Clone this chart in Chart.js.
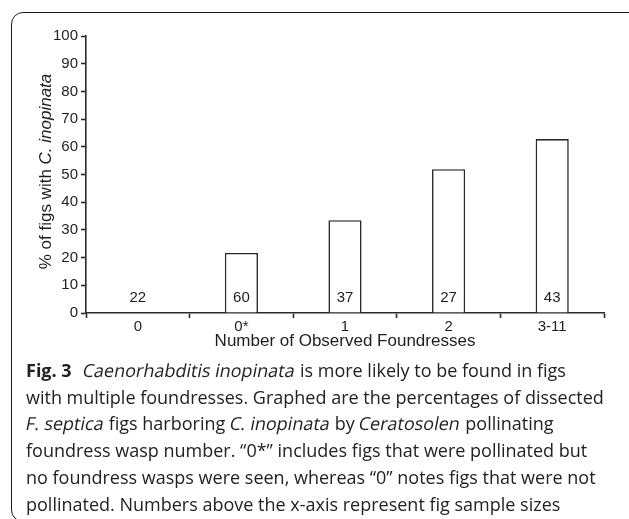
<!DOCTYPE html>
<html>
<head>
<meta charset="utf-8">
<script src="https://cdn.jsdelivr.net/npm/chart.js@4"></script>
<style>
  html, body { margin: 0; padding: 0; background: #fff; }
  body { width: 629px; height: 519px; position: relative; overflow: hidden; }
  #frame {
    position: absolute; left: 11px; top: 12px; width: 640px; height: 508px;
    border: 1.5px solid #1a1a1a; border-radius: 12px;
  }
  #figChart { position: absolute; left: 0; top: 0; }
  #caption {
    position: absolute; left: 26px; top: 357px;
    font-family: "Open Sans", sans-serif; font-size: 18px; line-height: 26.7px;
    color: #222; white-space: nowrap;
  }
  #caption b { font-weight: 700; margin-right: 7px; }
  /* slanted regular face: keeps the wider Myriad-like italic widths */
  #caption i { font-style: normal; display: inline-block; transform: skewX(-11deg); }
</style>
</head>
<body>
<div id="frame"></div>
<canvas id="figChart" width="629" height="360"></canvas>
<div id="caption">
  <b>Fig. 3</b> <i>Caenorhabditis inopinata</i> is more likely to be found in figs<br>
  with multiple foundresses. Graphed are the percentages of dissected<br>
  <i>F. septica</i> figs harboring <i>C. inopinata</i> by <i>Ceratosolen</i> pollinating<br>
  foundress wasp number. “0*” includes figs that were pollinated but<br>
  no foundress wasps were seen, whereas “0” notes figs that were not<br>
  pollinated. Numbers above the x-axis represent fig sample sizes
</div>
<script>
// data
var foundressGroups = ['0', '0*', '1', '2', '3-11'];   // x categories
var pctWithInopinata = [0, 21.7, 33.5, 51.9, 62.8];    // % of figs with C. inopinata
var sampleSizes = [22, 60, 37, 27, 43];                // n per group, printed in the bars

var axisColor = '#2a2a2a';
var textColor = '#1e1e1e';
var fam = '"Liberation Sans", Arial, sans-serif';
var tickFont = { family: fam, size: 15 };

// sample size numbers sitting just above the x axis
var sampleSizeLabels = {
  id: 'sampleSizeLabels',
  afterDatasetsDraw: function (chart) {
    var ctx = chart.ctx, x = chart.scales.x, y = chart.scales.y;
    ctx.save();
    ctx.font = '15px ' + fam;
    ctx.fillStyle = textColor;
    ctx.textAlign = 'center';
    ctx.textBaseline = 'middle';
    sampleSizes.forEach(function (n, i) {
      ctx.fillText(String(n), x.getPixelForValue(i), y.getPixelForValue(0) - 15);
    });
    ctx.restore();
  }
};

// y title has an italic species name, so draw it by hand
var yTitle = {
  id: 'yTitle',
  afterDraw: function (chart) {
    var ctx = chart.ctx, area = chart.chartArea;
    var plain = '% of figs with ', ital = 'C. inopinata';
    ctx.save();
    ctx.fillStyle = textColor;
    ctx.textBaseline = 'alphabetic';
    ctx.textAlign = 'left';
    ctx.font = '17px ' + fam;
    var w1 = ctx.measureText(plain).width;
    ctx.font = 'italic 17px ' + fam;
    var w2 = ctx.measureText(ital).width;
    ctx.translate(51, (area.top + area.bottom) / 2 - 3);
    ctx.rotate(-Math.PI / 2);
    var start = -(w1 + w2) / 2;
    ctx.font = '17px ' + fam;
    ctx.fillText(plain, start, 0);
    ctx.font = 'italic 17px ' + fam;
    ctx.fillText(ital, start + w1, 0);
    ctx.restore();
  }
};

var ctx = document.getElementById('figChart').getContext('2d');

var figChart = new Chart(ctx, {
  type: 'bar',
  data: {
    labels: foundressGroups,
    datasets: [{
      data: pctWithInopinata,
      backgroundColor: '#fff',
      borderColor: axisColor,
      borderWidth: 1.6,
      borderSkipped: 'bottom',
      categoryPercentage: 1,
      barPercentage: 0.32
    }]
  },
  options: {
    responsive: false,
    animation: false,
    layout: { padding: { left: 0, top: 36, right: 25, bottom: 0 } },
    plugins: {
      legend: { display: false },
      tooltip: { enabled: false }
    },
    scales: {
      x: {
        offset: true,
        grid: { offset: true, drawOnChartArea: false, drawTicks: true, tickLength: 5, tickColor: axisColor, tickWidth: 1.6 },
        border: { display: true, color: axisColor, width: 1.6 },
        ticks: { font: tickFont, color: textColor, padding: 0 },
        title: {
          display: true,
          text: 'Number of Observed Foundresses',
          font: { family: fam, size: 17 },
          color: textColor,
          padding: { top: 0, bottom: 8.5 }
        },
        afterFit: function (s) { s.height = 47; }
      },
      y: {
        min: 0,
        max: 100,
        ticks: { stepSize: 10, font: tickFont, color: textColor, padding: 3 },
        grid: { drawOnChartArea: false, drawTicks: true, tickLength: 5, tickColor: axisColor, tickWidth: 1.6 },
        border: { display: true, color: axisColor, width: 1.6 },
        afterFit: function (s) { s.width = 86; }
      }
    }
  },
  plugins: [sampleSizeLabels, yTitle]
});
</script>
</body>
</html>
